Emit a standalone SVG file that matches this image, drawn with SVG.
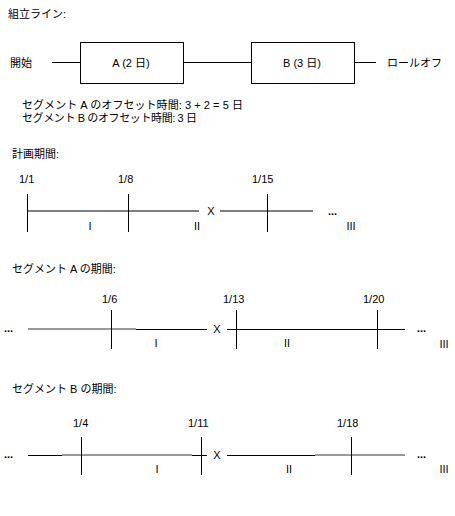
<svg xmlns="http://www.w3.org/2000/svg" width="455" height="516" viewBox="0 0 455 516">
<style>
text{font-family:"Liberation Sans","Noto Sans CJK JP",sans-serif;font-size:11px;fill:#000}
.c{text-anchor:middle}
.d{font-weight:bold}
.ln{stroke:#000;stroke-width:1;fill:none}
.gr{stroke:#999;stroke-width:2;fill:none}
.box{fill:#fff;stroke:#000;stroke-width:1}
</style>
<rect width="455" height="516" fill="#fff"/>
<text x="8" y="18">組立ライン:</text>
<g id="connectors">
<line class="ln" x1="52" y1="62.5" x2="80" y2="62.5"/>
<line class="ln" x1="183" y1="62.5" x2="251" y2="62.5"/>
<line class="ln" x1="354" y1="62.5" x2="376" y2="62.5"/>
</g>
<g id="start"><text x="10" y="67">開始</text></g>
<g id="nodeA"><rect class="box" x="80.5" y="42.5" width="103" height="41"/><text class="c" x="131" y="67">A (2 日)</text></g>
<g id="nodeB"><rect class="box" x="251.5" y="42.5" width="103" height="41"/><text class="c" x="302" y="67">B (3 日)</text></g>
<g id="rolloff"><text x="387" y="67">ロールオフ</text></g>
<text x="22" y="109" textLength="221" lengthAdjust="spacing">セグメント A のオフセット時間: 3 + 2 = 5 日</text>
<text x="22" y="122" textLength="175" lengthAdjust="spacing">セグメント B のオフセット時間: 3 日</text>

<text x="12" y="158">計画期間:</text>
<g id="timeline1">
<text x="19" y="183">1/1</text>
<text x="118" y="183">1/8</text>
<text x="252" y="183">1/15</text>
<line class="ln" x1="27" y1="211" x2="199" y2="211"/>
<line class="ln" x1="220" y1="211" x2="313" y2="211"/>
<line class="ln" x1="27.5" y1="194" x2="27.5" y2="232"/>
<line class="ln" x1="128.5" y1="194" x2="128.5" y2="232"/>
<line class="ln" x1="267.5" y1="194" x2="267.5" y2="232"/>
<text class="c" x="211" y="215">X</text>
<text class="d" x="328" y="215">...</text>
<text class="c" x="90" y="230">I</text>
<text class="c" x="197" y="230">II</text>
<text class="c" x="351" y="230">III</text>
</g>

<text x="12" y="273">セグメント A の期間:</text>
<g id="timeline2">
<text x="102" y="303">1/6</text>
<text x="223" y="303">1/13</text>
<text x="363" y="303">1/20</text>
<text class="d" x="4" y="332">...</text>
<line class="gr" x1="28" y1="329" x2="136" y2="329"/>
<line class="ln" x1="136" y1="329.5" x2="207" y2="329.5"/>
<line class="ln" x1="227" y1="329.5" x2="405" y2="329.5"/>
<line class="ln" x1="111.5" y1="310" x2="111.5" y2="349"/>
<line class="ln" x1="236.5" y1="310" x2="236.5" y2="349"/>
<line class="ln" x1="377.5" y1="310" x2="377.5" y2="349"/>
<text class="c" x="217" y="333">X</text>
<text class="d" x="417" y="332">...</text>
<text class="c" x="156" y="347">I</text>
<text class="c" x="287" y="347">II</text>
<text class="c" x="444" y="348">III</text>
</g>

<text x="12" y="393">セグメント B の期間:</text>
<g id="timeline3">
<text x="73" y="427">1/4</text>
<text x="188" y="427">1/11</text>
<text x="337" y="427">1/18</text>
<text class="d" x="4" y="458">...</text>
<line class="ln" x1="28" y1="455.5" x2="62" y2="455.5"/>
<line class="gr" x1="62" y1="455" x2="192" y2="455"/>
<line class="ln" x1="192" y1="455.5" x2="207" y2="455.5"/>
<line class="ln" x1="227" y1="455.5" x2="315" y2="455.5"/>
<line class="gr" x1="315" y1="455" x2="405" y2="455"/>
<line class="ln" x1="81.5" y1="437" x2="81.5" y2="475"/>
<line class="ln" x1="201.5" y1="437" x2="201.5" y2="475"/>
<line class="ln" x1="351.5" y1="437" x2="351.5" y2="475"/>
<text class="c" x="217" y="459">X</text>
<text class="d" x="417" y="458">...</text>
<text class="c" x="157" y="473">I</text>
<text class="c" x="289" y="473">II</text>
<text class="c" x="444" y="473">III</text>
</g>
</svg>
